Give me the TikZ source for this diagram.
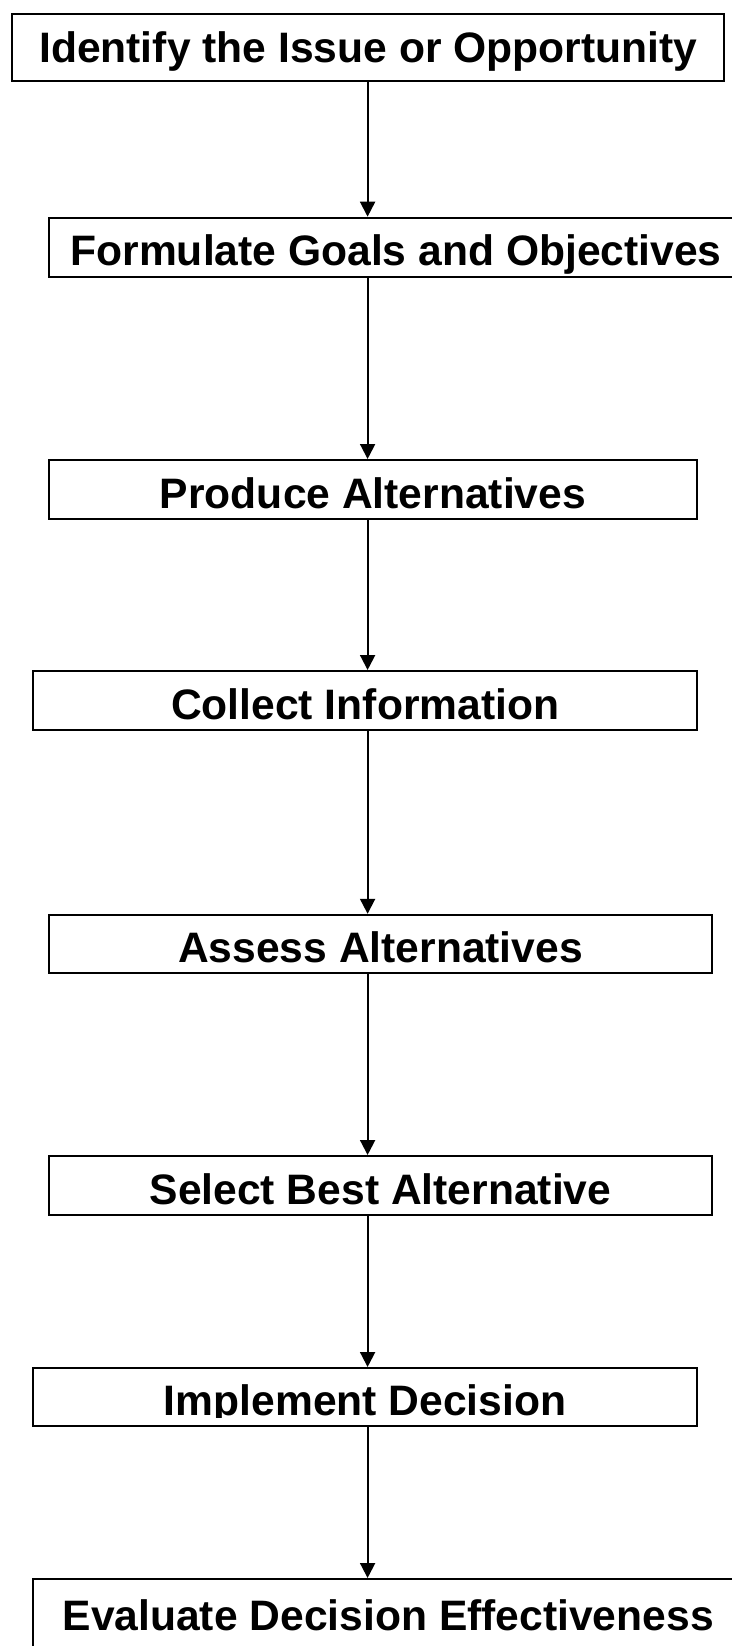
\documentclass[tikz,border=0pt]{standalone}
\usepackage{fontspec}
\setmainfont{Liberation Sans}
\usetikzlibrary{arrows.meta, positioning}

\tikzset{
  stepbox/.style={draw, line width=2pt, inner sep=0pt, anchor=north west,
    text height=37pt, text depth=0pt,
    font=\bfseries\fontsize{42.6}{44}\selectfont},
  flow/.style={-{Triangle[width=15pt,length=15pt]}, line width=2pt}
}

\begin{document}
\begin{tikzpicture}[x=1pt,y=-1pt]
  \useasboundingbox (0,0) rectangle (731,1646);
  \coordinate (axis) at (367.6,0);
  % steps of the decision process
  \node[stepbox, minimum width=712pt, minimum height=67pt, text height=31pt] (identify) at (11.2,12.6) {Identify the Issue or Opportunity};
  \node[stepbox, minimum width=694pt, minimum height=59pt] (goals) at (48,216.7) {Formulate Goals and Objectives};
  \node[stepbox, minimum width=648pt, minimum height=59pt] (produce) at (48,459) {Produce Alternatives};
  \node[stepbox, minimum width=664pt, minimum height=59pt] (collect) at (32.2,670) {Collect Information};
  \node[stepbox, minimum width=663pt, minimum height=58pt] (assess) at (48,913.8) {Assess Alternatives};
  \node[stepbox, minimum width=663pt, minimum height=59pt] (select) at (48,1155) {Select Best Alternative};
  \node[stepbox, minimum width=664pt, minimum height=58pt] (implement) at (32.2,1367) {Implement Decision};
  \node[stepbox, minimum width=710pt, minimum height=76pt, text height=27pt] (evaluate) at (32.2,1578) {Evaluate Decision Effectiveness};
  % the descender of the p is cut off in the original
  \fill[white] (150,1417.5) rectangle (600,1423.9);
  % connectors
  \draw[flow] (identify.south -| axis) -- (goals.north -| axis);
  \draw[flow] (goals.south -| axis) -- (produce.north -| axis);
  \draw[flow] (produce.south -| axis) -- (collect.north -| axis);
  \draw[flow] (collect.south -| axis) -- (assess.north -| axis);
  \draw[flow] (assess.south -| axis) -- (select.north -| axis);
  \draw[flow] (select.south -| axis) -- (implement.north -| axis);
  \draw[flow] (implement.south -| axis) -- (evaluate.north -| axis);
\end{tikzpicture}
\end{document}
